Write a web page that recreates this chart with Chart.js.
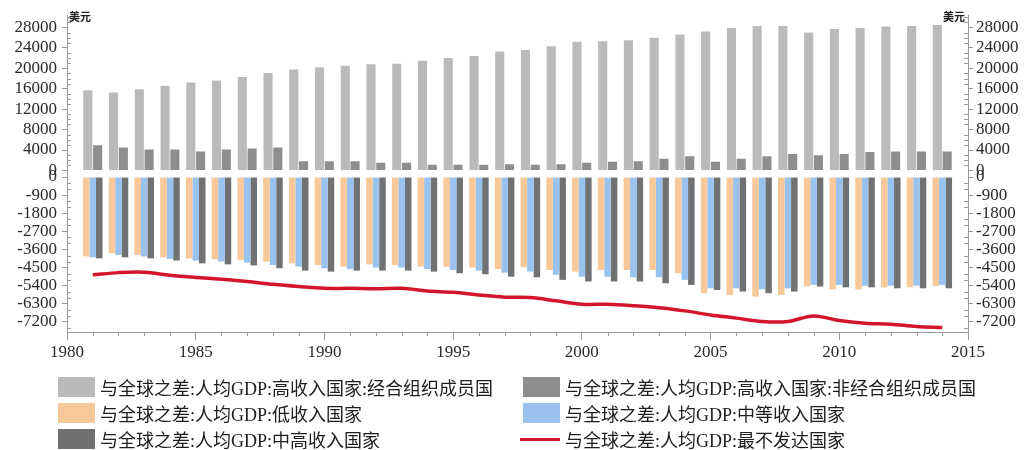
<!DOCTYPE html>
<html lang="zh">
<head>
<meta charset="utf-8">
<title>与全球之差:人均GDP</title>
<script src="https://cdn.jsdelivr.net/npm/chart.js@4/dist/chart.umd.min.js"></script>
<style>
  html, body { margin: 0; padding: 0; background: #fff; }
  #wrap { position: relative; width: 1025px; height: 450px; overflow: hidden; }
  #wrap canvas { position: absolute; left: 0; top: 0; }
  #legend {
    position: absolute; left: 58px; top: 377px;
    display: grid; grid-template-columns: 465px 440px; row-gap: 6px;
    font-family: "Liberation Serif", "Noto Sans CJK SC", serif;
    font-size: 18px; color: #1e1e1e;
  }
  .item { display: flex; align-items: center; height: 20px; white-space: nowrap; }
  .sw { flex: none; width: 37px; height: 20px; margin-right: 5px; }
  .ln { flex: none; width: 40px; height: 3px; margin-left: -3px; margin-right: 5px; }
</style>
</head>
<body>
<div id="wrap">
  <canvas id="upper" width="1025" height="450"></canvas>
  <canvas id="lower" width="1025" height="450"></canvas>
  <div id="legend"></div>
</div>
<script>
// Years on the horizontal axis
const years = [1981,1982,1983,1984,1985,1986,1987,1988,1989,1990,1991,1992,1993,1994,1995,1996,1997,
               1998,1999,2000,2001,2002,2003,2004,2005,2006,2007,2008,2009,2010,2011,2012,2013,2014];

// Gap to the world average, GDP per capita (USD)
const oecd = [15700,15250,15900,16600,17200,17600,18300,19100,19750,20200,20500,20800,20900,21500,22000,22400,23300,
              23600,24300,25200,25300,25500,26000,26600,27200,27900,28300,28300,27000,27700,27900,28200,28300,28500];
const nonOecd = [4950,4500,4100,4100,3700,4100,4300,4500,1800,1800,1800,1500,1500,1100,1100,1100,1200,
                 1100,1200,1500,1700,1800,2300,2800,1700,2300,2800,3200,3000,3200,3600,3700,3700,3700];
const lowIncome = [-3950,-3790,-3870,-3990,-4040,-4090,-4120,-4200,-4290,-4370,-4450,-4340,-4370,-4450,-4450,-4500,-4570,
                   -4480,-4620,-4700,-4620,-4620,-4620,-4780,-5770,-5860,-5940,-5860,-5440,-5580,-5580,-5480,-5480,-5410];
const middleIncome = [-3990,-3870,-3950,-4070,-4150,-4200,-4250,-4370,-4450,-4530,-4570,-4500,-4500,-4570,-4620,-4650,-4750,
                      -4700,-4860,-4950,-4950,-4980,-4980,-5110,-5530,-5530,-5580,-5530,-5360,-5360,-5400,-5400,-5400,-5360];
const upperMiddle = [-4040,-3990,-4040,-4150,-4290,-4340,-4390,-4530,-4650,-4700,-4650,-4650,-4650,-4700,-4780,-4830,-4950,
                     -4980,-5110,-5190,-5190,-5190,-5280,-5360,-5610,-5690,-5770,-5690,-5440,-5480,-5480,-5530,-5530,-5530];
const leastDeveloped = [-4860,-4750,-4730,-4880,-4990,-5080,-5190,-5330,-5440,-5530,-5530,-5550,-5530,-5660,-5730,-5860,-5970,
                        -5990,-6150,-6320,-6320,-6390,-6490,-6650,-6850,-7010,-7180,-7180,-6900,-7130,-7260,-7310,-7430,-7480];

// Labelled ticks
const xTickLabels = [1980,1985,1990,1995,2000,2005,2010,2015];
const topTickLabels = [0,4000,8000,12000,16000,20000,24000,28000];
const bottomTickLabels = [0,-900,-1800,-2700,-3600,-4500,-5400,-6300,-7200];
const unitLabel = '美元';

const seriesNames = [
  '与全球之差:人均GDP:高收入国家:经合组织成员国',
  '与全球之差:人均GDP:高收入国家:非经合组织成员国',
  '与全球之差:人均GDP:低收入国家',
  '与全球之差:人均GDP:中等收入国家',
  '与全球之差:人均GDP:中高收入国家',
  '与全球之差:人均GDP:最不发达国家'
];

const pts = arr => arr.map((v, i) => ({ x: years[i], y: v }));

// positions of the small unlabelled ticks between the labelled ones
function tickRange(from, to, step) {
  const out = [];
  for (let v = from; step > 0 ? v <= to : v >= to; v += step) out.push(v);
  return out;
}

const tickFont = { family: '"Liberation Serif", "Times New Roman", serif', size: 17 };
const tickColor = '#2a2a2a';
const axisColor = '#9a9a9a';
const yearTicks = tickRange(1980, 2015, 1);

function yAxis(opts) {
  const labels = opts.labels;
  return {
    type: 'linear', position: opts.position, min: opts.min, max: opts.max,
    afterBuildTicks: s => { s.ticks = opts.all.map(v => ({ value: v })); },
    afterFit: s => { s.width = opts.width; },
    ticks: {
      autoSkip: false, padding: opts.padding, color: tickColor, font: tickFont,
      callback: v => labels.includes(v) ? String(v) : ''
    },
    grid: {
      drawOnChartArea: false, tickLength: 5,
      tickColor: c => (c.tick && labels.includes(c.tick.value)) ? axisColor : 'rgba(0,0,0,0)'
    },
    border: { color: axisColor, width: 1 }
  };
}

function xAxis(visible) {
  return {
    type: 'linear', position: 'bottom', min: 1980, max: 2015, offset: false, display: visible,
    afterBuildTicks: s => { s.ticks = yearTicks.map(v => ({ value: v })); },
    afterFit: s => { s.height = visible ? 30 : 0; },
    ticks: {
      autoSkip: false, maxRotation: 0, padding: 2, color: tickColor, font: tickFont,
      callback: v => xTickLabels.includes(v) ? String(v) : ''
    },
    grid: {
      drawOnChartArea: false, offset: false, tickLength: 8,
      tickColor: c => (c.tick && xTickLabels.includes(c.tick.value)) ? axisColor : 'rgba(0,0,0,0)'
    },
    border: { color: axisColor, width: 1 }
  };
}

// short unlabelled tick marks (and optionally the unit caption)
function axisDecor(specs, withUnit) {
  return {
    id: 'axisDecor',
    afterDraw(chart) {
      const ctx = chart.ctx;
      ctx.save();
      ctx.strokeStyle = axisColor;
      ctx.lineWidth = 1;
      ctx.beginPath();
      specs.forEach(sp => {
        const s = chart.scales[sp.id];
        s.ticks.forEach(t => {
          if (sp.labels.includes(t.value)) return;
          const p = Math.round(s.getPixelForValue(t.value)) + 0.5;
          if (sp.side === 'left') { ctx.moveTo(s.right, p); ctx.lineTo(s.right + 4, p); }
          else if (sp.side === 'right') { ctx.moveTo(s.left - 4, p); ctx.lineTo(s.left, p); }
          else { ctx.moveTo(p, s.top); ctx.lineTo(p, s.top + 4); }
        });
      });
      ctx.stroke();
      if (withUnit) {
        const area = chart.chartArea;
        ctx.fillStyle = '#222';
        ctx.font = 'bold 11px "Noto Sans CJK SC", sans-serif';
        ctx.textBaseline = 'middle';
        ctx.textAlign = 'left';
        ctx.fillText(unitLabel, area.left + 2, area.top + 2);
        ctx.textAlign = 'right';
        ctx.fillText(unitLabel, area.right - 3, area.top + 2);
      }
      ctx.restore();
    }
  };
}

const common = {
  responsive: false,
  animation: false,
  plugins: { legend: { display: false }, tooltip: { enabled: false } }
};

// upper panel: high-income groups (positive gaps)
const upperChart = new Chart(document.getElementById('upper'), {
  type: 'bar',
  data: {
    datasets: [
      { label: seriesNames[0], data: pts(oecd), backgroundColor: '#bababa',
        barPercentage: 0.93, categoryPercentage: 0.76 },
      { label: seriesNames[1], data: pts(nonOecd), backgroundColor: '#8e8e8e',
        barPercentage: 0.93, categoryPercentage: 0.76 }
    ]
  },
  options: Object.assign({}, common, {
    layout: { padding: { top: 13, bottom: 277, left: 0, right: 0 } },
    scales: {
      x: xAxis(false),
      y: yAxis({ position: 'left', min: -500, max: 30400, labels: topTickLabels,
                 all: tickRange(0, 30000, 1000), width: 67, padding: 5 }),
      yR: yAxis({ position: 'right', min: -500, max: 30400, labels: topTickLabels,
                  all: tickRange(0, 30000, 1000), width: 57, padding: 3 })
    }
  }),
  plugins: [axisDecor([
    { id: 'y', labels: topTickLabels, side: 'left' },
    { id: 'yR', labels: topTickLabels, side: 'right' }
  ], true)]
});

// lower panel: other income groups (negative gaps) and the least developed countries line
const lowerChart = new Chart(document.getElementById('lower'), {
  type: 'bar',
  data: {
    datasets: [
      { label: seriesNames[2], data: pts(lowIncome), backgroundColor: '#f7c899',
        barPercentage: 1, categoryPercentage: 0.76 },
      { label: seriesNames[3], data: pts(middleIncome), backgroundColor: '#99c2ee',
        barPercentage: 1, categoryPercentage: 0.76 },
      { label: seriesNames[4], data: pts(upperMiddle), backgroundColor: '#6f7173',
        barPercentage: 1, categoryPercentage: 0.76 },
      { type: 'line', label: seriesNames[5], data: pts(leastDeveloped),
        borderColor: '#d3162c', backgroundColor: '#d3162c', borderWidth: 3.5,
        pointRadius: 0, tension: 0.35 }
    ]
  },
  options: Object.assign({}, common, {
    layout: { padding: { top: 173, bottom: 88, left: 0, right: 0 } },
    scales: {
      x: xAxis(true),
      y: yAxis({ position: 'left', min: -7700, max: 200, labels: bottomTickLabels,
                 all: tickRange(0, -7500, -300), width: 67, padding: 5 }),
      yR: yAxis({ position: 'right', min: -7700, max: 200, labels: bottomTickLabels,
                  all: tickRange(0, -7500, -300), width: 57, padding: 3 })
    }
  }),
  plugins: [axisDecor([
    { id: 'y', labels: bottomTickLabels, side: 'left' },
    { id: 'yR', labels: bottomTickLabels, side: 'right' },
    { id: 'x', labels: xTickLabels, side: 'bottom' }
  ], false)]
});

// legend: two columns, entries taken from both panels' datasets
const legendEl = document.getElementById('legend');
upperChart.data.datasets.concat(lowerChart.data.datasets).forEach(ds => {
  const item = document.createElement('div');
  item.className = 'item';
  const sw = document.createElement('span');
  if (ds.type === 'line') { sw.className = 'ln'; sw.style.background = ds.borderColor; }
  else { sw.className = 'sw'; sw.style.background = ds.backgroundColor; }
  const tx = document.createElement('span');
  tx.textContent = ds.label;
  item.appendChild(sw);
  item.appendChild(tx);
  legendEl.appendChild(item);
});
</script>
</body>
</html>
